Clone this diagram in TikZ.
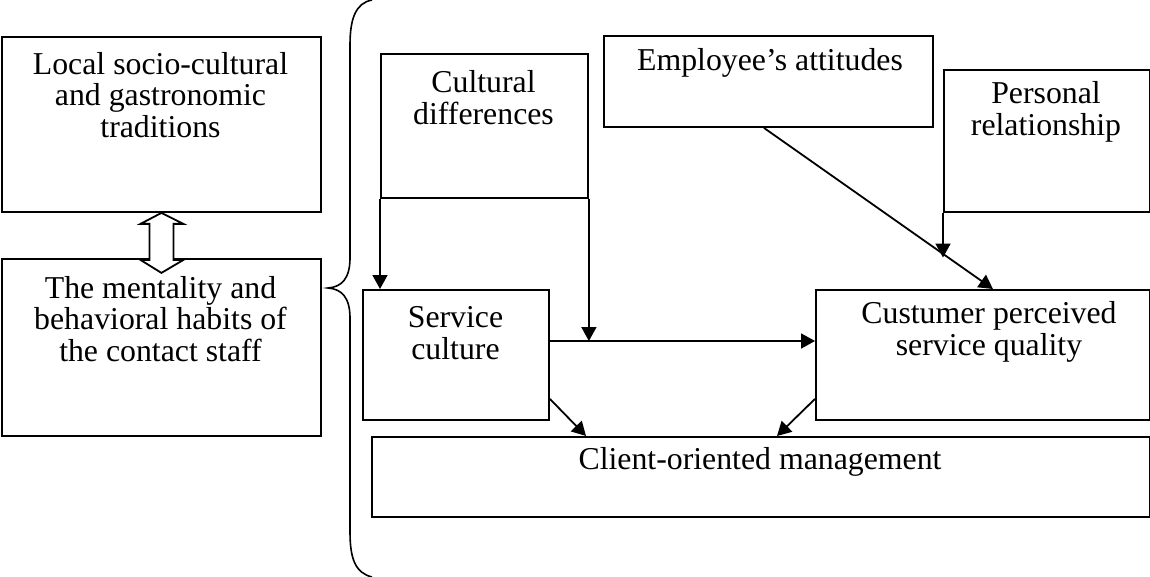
\documentclass[tikz,border=0pt]{standalone}
\usepackage{fontspec}
\setmainfont{Liberation Serif}
\usetikzlibrary{arrows.meta,calc}
\begin{document}
\begin{tikzpicture}[x=1pt,y=1pt,
  box/.style={draw,line width=1.9pt,inner sep=0pt,anchor=north west},
  lbl/.style={align=center,font=\fontsize{31.8}{31.3}\selectfont,inner sep=0pt},
  conn/.style={line width=1.8pt,-{Triangle[length=14pt,width=15pt]}},
  plain/.style={line width=1.8pt}]
\useasboundingbox (0,0) rectangle (1150,-577);

% left-hand boxes
\node[box,minimum width=319pt,minimum height=175pt] (l1) at (1,-36) {};
\node[lbl] (l1t) at (160.5,-95) {Local socio-cultural\\and gastronomic\\traditions};
\node[box,minimum width=319pt,minimum height=177pt] (l2) at (1,-258) {};
\node[lbl] (l2t) at (160.5,-319) {The mentality and\\behavioral habits of\\the contact staff};

% hollow double arrow between the two left boxes
\draw[plain,fill=white,line join=miter] (l1.south)
  -- ++(22,-11) -- ++(-10,0) -- ++(0,-36) -- ++(10,0)
  -- ++(-22,-13) -- ++(-21,13) -- ++(9,0) -- ++(0,36) -- ++(-9,0) -- cycle;

% curly brace
\draw[line width=1.6pt] (372,0) .. controls (356,-3) and (350,-18) .. (350,-45)
  -- (350,-258) .. controls (350,-278) and (342,-287) .. (328,-288)
  .. controls (342,-289) and (350,-298) .. (350,-318)
  -- (350,-532) .. controls (350,-560) and (356,-573) .. (372,-577);

% right-hand boxes
\node[box,minimum width=207pt,minimum height=144pt] (cd) at (380,-53) {};
\node[lbl] (cdt) at (483.5,-97.5) {Cultural\\differences};
\node[box,minimum width=329pt,minimum height=91pt] (em) at (603,-35) {};
\node[lbl] (emt) at (770,-63) {Employee’s attitudes};
\node[box,minimum width=206pt,minimum height=142pt] (pr) at (943,-69) {};
\node[lbl] (prt) at (1046,-112) {Personal\\relationship};
\node[box,minimum width=186pt,minimum height=130pt] (sc) at (362,-289) {};
\node[lbl] (sct) at (455.5,-333) {Service\\culture};
\node[box,minimum width=334pt,minimum height=130pt] (cp) at (815,-289) {};
\node[lbl] (cpt) at (989,-332) {Custumer perceived\\service quality};
\node[box,minimum width=778pt,minimum height=80pt] (cl) at (371,-436) {};
\node[lbl] (clt) at (760,-462) {Client-oriented management};

% connectors
\coordinate (scout) at ([yshift=-52pt]sc.north east);
\coordinate (cpin) at ([yshift=-52pt]cp.north west);
\draw[conn] (scout) -- (cpin);
\draw[conn] (cd.south west) -- (cd.south west |- sc.north);
\draw[conn] (cd.south east) -- (cd.south east |- scout);
\coordinate (emfoot) at ([xshift=-4.5pt]em.south);
\coordinate (cptop) at ([xshift=10pt]cp.north);
\draw[conn] (emfoot) -- (cptop);
\coordinate (prhit) at ($(emfoot)!0.786!(cptop)$);
\draw[conn] (pr.south west) -- ([yshift=-3pt]pr.south west |- prhit);
\draw[conn] ([yshift=22pt]sc.south east) -- ([xshift=215pt]cl.north west);
\draw[conn] ([yshift=22pt]cp.south west) -- ([xshift=406pt]cl.north west);
\end{tikzpicture}
\end{document}
